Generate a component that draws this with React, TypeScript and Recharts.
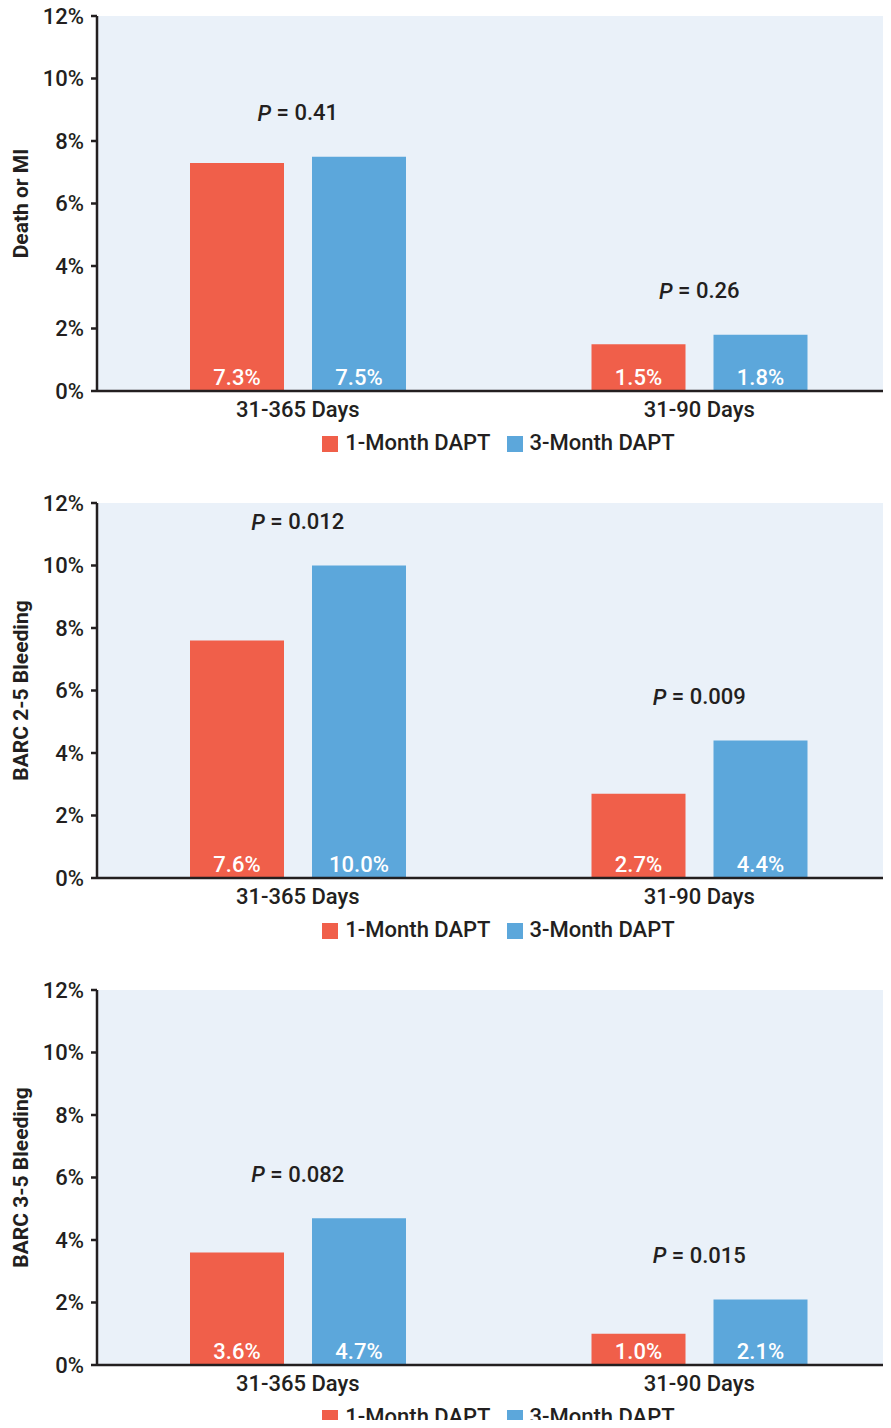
import React from 'react';
import {
  BarChart,
  Bar,
  XAxis,
  YAxis,
  CartesianGrid,
  Legend,
  LabelList,
  ReferenceDot
} from 'recharts';

const categories = ['31-365 Days', '31-90 Days'];
const seriesNames = ['1-Month DAPT', '3-Month DAPT'];
const yTicks = [0, 2, 4, 6, 8, 10, 12];

const deathMiOneMonth = [7.3, 1.5];
const deathMiThreeMonth = [7.5, 1.8];
const deathMiP = ['0.41', '0.26'];

const barc25OneMonth = [7.6, 2.7];
const barc25ThreeMonth = [10.0, 4.4];
const barc25P = ['0.012', '0.009'];

const barc35OneMonth = [3.6, 1.0];
const barc35ThreeMonth = [4.7, 2.1];
const barc35P = ['0.082', '0.015'];

const RED = '#F05F4A';
const BLUE = '#5CA7DB';
const INK = '#231F20';
const FONT = 'Roboto, sans-serif';

interface PanelProps {
  title: string;
  oneMonth: number[];
  threeMonth: number[];
  pValues: string[];
}

const Panel: React.FC<PanelProps> = ({ title, oneMonth, threeMonth, pValues }) => {
  const data = categories.map((name, i) => ({
    name,
    one: oneMonth[i],
    three: threeMonth[i],
    top: Math.max(oneMonth[i], threeMonth[i])
  }));

  const renderLegend = () => (
    <div
      style={{
        display: 'flex',
        justifyContent: 'center',
        alignItems: 'center',
        height: 24,
        fontFamily: FONT,
        fontWeight: 500,
        fontSize: 22,
        color: INK
      }}
    >
      {seriesNames.map((s, i) => (
        <span key={s} style={{ display: 'flex', alignItems: 'center', marginRight: i === 0 ? 16 : 0 }}>
          <span
            style={{
              display: 'inline-block',
              width: 16,
              height: 16,
              background: i === 0 ? RED : BLUE,
              marginRight: 7,
              marginTop: 4
            }}
          />
          {s}
        </span>
      ))}
    </div>
  );

  return (
    <BarChart
      width={900}
      height={487}
      data={data}
      margin={{ top: 16, right: 0, left: 0, bottom: 33 }}
      barSize={94}
      barGap={28}
    >
      <CartesianGrid horizontal={false} vertical={false} fill="#EAF1F9" stroke="none" />
      <XAxis
        dataKey="name"
        height={39}
        tickLine={false}
        tickSize={0}
        tickMargin={10}
        axisLine={{ stroke: INK, strokeWidth: 2.5 }}
        tick={{ fill: INK, fontSize: 22, fontFamily: FONT, fontWeight: 500 }}
      />
      <YAxis
        width={97}
        domain={[0, 12]}
        ticks={yTicks}
        interval={0}
        tickSize={6}
        tickMargin={7}
        tickFormatter={(v) => `${v}%`}
        axisLine={{ stroke: INK, strokeWidth: 2.5 }}
        tickLine={{ stroke: INK, strokeWidth: 2.5 }}
        tick={{ fill: INK, fontSize: 22, fontFamily: FONT, fontWeight: 500 }}
        label={(props: any) => {
          const vb = props.viewBox || { x: 0, y: 16, height: 375 };
          const x = vb.x + 21;
          const y = vb.y + vb.height / 2;
          return (
            <text
              x={x}
              y={y}
              transform={`rotate(-90, ${x}, ${y})`}
              textAnchor="middle"
              dominantBaseline="central"
              fontFamily={FONT}
              fontWeight="bold"
              fontSize={21}
              fill={INK}
            >
              {title}
            </text>
          );
        }}
      />
      <Legend verticalAlign="bottom" content={renderLegend} wrapperStyle={{ left: 97, width: 803 }} />
      <Bar dataKey="one" name={seriesNames[0]} fill={RED} isAnimationActive={false}>
        <LabelList
          dataKey="one"
          position="insideBottom"
          offset={6}
          fill="#FFFFFF"
          fontSize={22}
          fontFamily={FONT}
          fontWeight={500}
          formatter={(v: any) => `${Number(v).toFixed(1)}%`}
        />
      </Bar>
      <Bar dataKey="three" name={seriesNames[1]} fill={BLUE} isAnimationActive={false}>
        <LabelList
          dataKey="three"
          position="insideBottom"
          offset={6}
          fill="#FFFFFF"
          fontSize={22}
          fontFamily={FONT}
          fontWeight={500}
          formatter={(v: any) => `${Number(v).toFixed(1)}%`}
        />
      </Bar>
      {data.map((d, i) => (
        <ReferenceDot
          key={d.name}
          x={d.name}
          y={d.top}
          r={0}
          fill="none"
          stroke="none"
          ifOverflow="visible"
          label={(props: any) => {
            const vb = props.viewBox || { x: 0, y: 0, width: 0, height: 0 };
            const cx = vb.x + (vb.width || 0) / 2;
            const cy = vb.y + (vb.height || 0) / 2 - 44;
            return (
              <text
                x={cx}
                y={cy}
                textAnchor="middle"
                dominantBaseline="central"
                fontFamily={FONT}
                fontWeight={500}
                fontSize={22}
                fill={INK}
              >
                <tspan fontStyle="italic">P</tspan>
                {` = ${pValues[i]}`}
              </text>
            );
          }}
        />
      ))}
    </BarChart>
  );
};

export default function App() {
  return (
    <div style={{ width: 891, height: 1428, overflow: 'hidden', margin: -8 }}>
      <Panel title="Death or MI" oneMonth={deathMiOneMonth} threeMonth={deathMiThreeMonth} pValues={deathMiP} />
      <Panel title="BARC 2-5 Bleeding" oneMonth={barc25OneMonth} threeMonth={barc25ThreeMonth} pValues={barc25P} />
      <Panel title="BARC 3-5 Bleeding" oneMonth={barc35OneMonth} threeMonth={barc35ThreeMonth} pValues={barc35P} />
    </div>
  );
}
